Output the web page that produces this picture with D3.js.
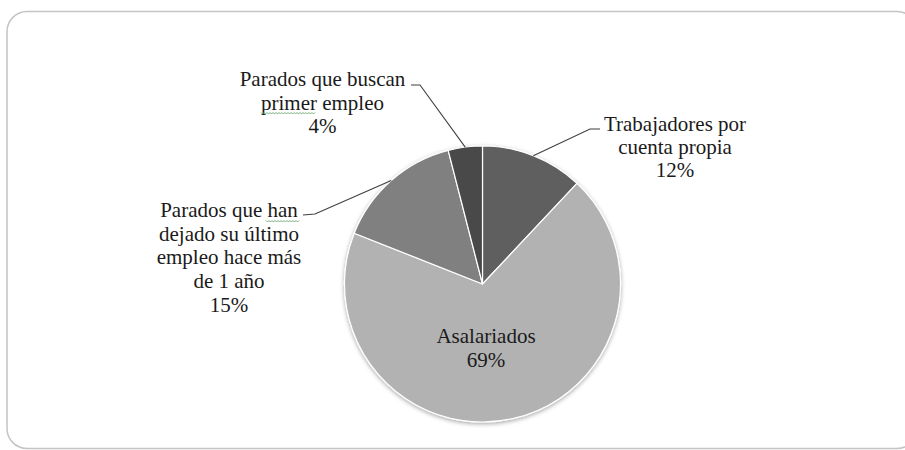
<!DOCTYPE html>
<html><head><meta charset="utf-8"><script src="https://cdn.jsdelivr.net/npm/d3@7"></script></head>
<body style="margin:0">
<svg id="chart" width="905" height="450"></svg>
<script>
// Data
const categories = [
  "Trabajadores por cuenta propia",
  "Asalariados",
  "Parados que han dejado su último empleo hace más de 1 año",
  "Parados que buscan primer empleo"
];
const values = [12, 69, 15, 4];
const labelLines = [
  ["Trabajadores por", "cuenta propia", "12%"],
  ["Asalariados", "69%"],
  ["Parados que han", "dejado su último", "empleo hace más", "de 1 año", "15%"],
  ["Parados que buscan", "primer  empleo", "4%"]
];
const colors = ["#5e5e5e", "#b2b2b2", "#808080", "#4a4a4a"];

const svg = d3.select("#chart");

// Frame
svg.append("rect")
  .attr("x", 7).attr("y", 11.5)
  .attr("width", 910).attr("height", 437)
  .attr("rx", 20).attr("ry", 20)
  .attr("fill", "#ffffff")
  .attr("stroke", "#c4c4c4")
  .attr("stroke-width", 1.5);

const defs = svg.append("defs");
const f = defs.append("filter").attr("id", "shadow")
  .attr("x", "-10%").attr("y", "-10%").attr("width", "120%").attr("height", "120%");
f.append("feDropShadow").attr("dx", 0).attr("dy", 1.5).attr("stdDeviation", 2)
  .attr("flood-color", "#000").attr("flood-opacity", 0.35);

const cx = 482.5, cy = 284, R = 138;
const pie = d3.pie().sort(null).value(d => d)(values);
const arc = d3.arc().innerRadius(0).outerRadius(R);

const g = svg.append("g").attr("transform", `translate(${cx},${cy})`);
const gp = g.append("g").attr("filter", "url(#shadow)");
gp.selectAll("path").data(pie).join("path")
  .attr("d", arc)
  .attr("fill", (d, i) => colors[i])
  .attr("stroke", "#ffffff")
  .attr("stroke-width", 1.2)
  .attr("stroke-linejoin", "round");

const labelPos = [
  { x: 675, y: 131, lh: 23 },
  { x: 486, y: 343, lh: 24 },
  { x: 229, y: 217, lh: 23.7 },
  { x: 322.5, y: 86, lh: 23.5 }
];
const leaders = [
  { pts: [[600, 129], [590, 129]] },
  null,
  { pts: [[303, 215], [315, 214]] },
  { pts: [[411, 85], [420, 85]] }
];

const outer = d3.arc().innerRadius(R).outerRadius(R);
pie.forEach((d, i) => {
  const L = leaders[i];
  if (!L) return;
  const c = outer.centroid(d);
  const pts = L.pts.concat([[cx + c[0], cy + c[1]]]);
  svg.append("path")
    .attr("d", d3.line()(pts))
    .attr("fill", "none")
    .attr("stroke", "#3f3f3f")
    .attr("stroke-width", 1.1);
});

labelLines.forEach((lines, i) => {
  const p = labelPos[i];
  lines.forEach((ln, j) => {
    svg.append("text")
      .attr("x", p.x).attr("y", p.y + j * p.lh)
      .attr("text-anchor", "middle")
      .attr("font-family", "Times New Roman")
      .attr("font-size", 21)
      .attr("fill", "#1a1a1a")
      .text(ln);
  });
});

// spell-check wavy underlines (as in the reference screenshot)
const squiggles = [[261, 316, 113], [266, 299, 221]];
squiggles.forEach(([x0, x1, y]) => {
  const pts = [];
  for (let x = x0, k = 0; x <= x1; x += 1.5, k++) pts.push([x, y + (k % 2 ? 1 : -0.5)]);
  svg.append("path").attr("d", d3.line()(pts))
    .attr("fill", "none").attr("stroke", "#6aa86a").attr("stroke-width", 0.9);
});
</script>
</body>
</html>
